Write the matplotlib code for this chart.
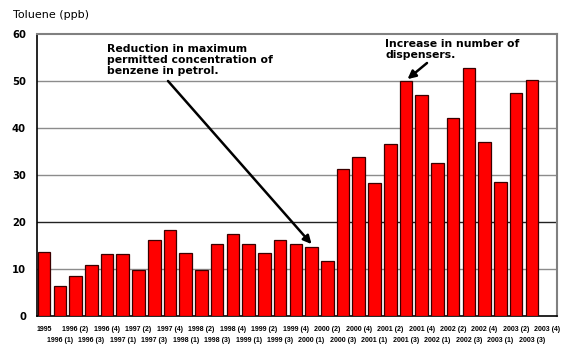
import matplotlib
matplotlib.use("Agg")
import matplotlib.pyplot as plt

labels = ["1995",
          "1996 (1)", "1996 (2)", "1996 (3)", "1996 (4)",
          "1997 (1)", "1997 (2)", "1997 (3)", "1997 (4)",
          "1998 (1)", "1998 (2)", "1998 (3)", "1998 (4)",
          "1999 (1)", "1999 (2)", "1999 (3)", "1999 (4)",
          "2000 (1)", "2000 (2)", "2000 (3)", "2000 (4)",
          "2001 (1)", "2001 (2)", "2001 (3)", "2001 (4)",
          "2002 (1)", "2002 (2)", "2002 (3)", "2002 (4)",
          "2003 (1)", "2003 (2)", "2003 (3)", "2003 (4)"]

values = [13.7, 6.4, 8.5, 10.8, 13.1, 13.1, 9.8, 16.2, 18.4, 13.3, 9.8,
          15.3, 17.4, 15.3, 13.3, 16.2, 15.3, 14.7, 11.8,
          31.2, 33.9, 28.2, 36.6, 49.9, 47.0, 32.6, 42.1, 52.7,
          37.0, 28.6, 47.4, 50.3]

yticks = [0, 10, 20, 30, 40, 50, 60]

fig = plt.figure(figsize=(5.75, 3.6), dpi=100)
ax = fig.add_axes([37/575, 1-316/360, 520/575, 282/360])

x = list(range(len(values)))
ax.bar(x, values, width=0.8, color="#ff0000", edgecolor="#3a0000",
       linewidth=0.9, zorder=3)

ax.set_ylim(0, 60)
ax.set_xlim(-0.45, 32.6)
for yv in yticks[1:-1]:
    ax.axhline(yv, color="#222222" if yv == 20 else "#8c8c8c",
               lw=1.0, zorder=1)

ax.set_yticks(yticks)
ax.set_yticklabels([str(v) for v in yticks], fontsize=7.2,
                   fontweight="bold", family="DejaVu Sans")
ax.tick_params(axis="y", length=0, pad=8)

major = [i for i in range(len(labels)) if i % 2 == 0]
minor = [i for i in range(len(labels)) if i % 2 == 1]
xfont = dict(fontsize=5.0, fontweight="bold",
             family=["Liberation Sans Narrow", "Liberation Sans", "DejaVu Sans"])
ax.set_xticks(major)
ax.set_xticklabels([labels[i] for i in major], **xfont)
ax.set_xticks(minor, minor=True)
ax.set_xticklabels([labels[i] for i in minor], minor=True, **xfont)
ax.tick_params(axis="x", which="major", length=0, pad=7.5)
ax.tick_params(axis="x", which="minor", length=0, pad=15)

for s in ["left", "bottom"]:
    ax.spines[s].set_color("black")
    ax.spines[s].set_linewidth(1.2)
for s in ["top", "right"]:
    ax.spines[s].set_color("#808080")
    ax.spines[s].set_linewidth(1.5)

fig.text(13/575, 1-15/360, "Toluene (ppb)", fontsize=8, family="DejaVu Sans",
         ha="left", va="center")

fig.text(107/575, 1-44/360,
         "Reduction in maximum\npermitted concentration of\nbenzene in petrol.",
         fontsize=7.8, fontweight="bold", family="DejaVu Sans",
         ha="left", va="top", linespacing=1.15)
ax.annotate("", xy=(17, 15.3), xycoords="data",
            xytext=(168, 360-81), textcoords="figure pixels",
            arrowprops=dict(arrowstyle="-|>", lw=1.8, color="black",
                            mutation_scale=12, shrinkA=0, shrinkB=0),
            zorder=5)

fig.text(385/575, 1-39/360, "Increase in number of\ndispensers.",
         fontsize=7.8, fontweight="bold", family="DejaVu Sans",
         ha="left", va="top", linespacing=1.15)
ax.annotate("", xy=(23.1, 50.4), xycoords="data",
            xytext=(427, 360-63), textcoords="figure pixels",
            arrowprops=dict(arrowstyle="-|>", lw=1.8, color="black",
                            mutation_scale=12, shrinkA=0, shrinkB=0),
            zorder=5)

fig.savefig("out.png", dpi=100)
